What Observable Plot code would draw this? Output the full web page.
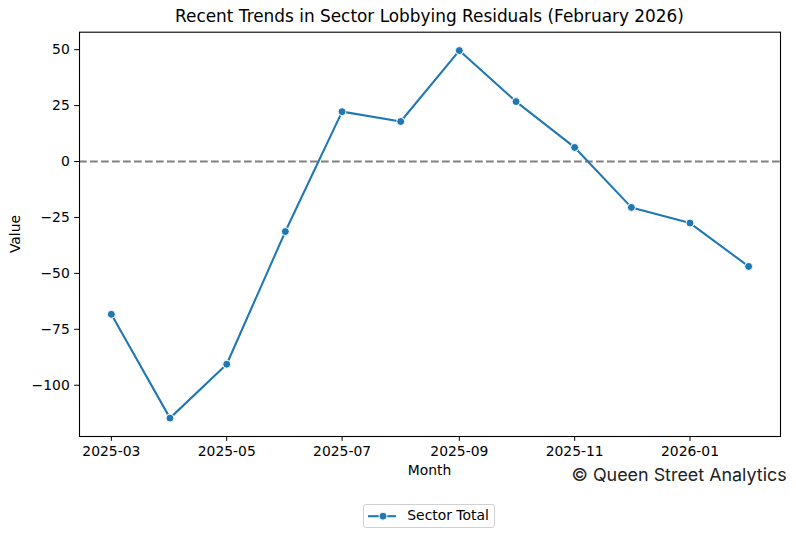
<!DOCTYPE html>
<html>
<head>
<meta charset="utf-8">
<script src="https://cdn.jsdelivr.net/npm/d3@7"></script>
<script src="https://cdn.jsdelivr.net/npm/@observablehq/plot@0.6"></script>
<style>
  html, body { margin: 0; padding: 0; background: #fff; }
  #wrap { position: relative; width: 796px; height: 539px; overflow: hidden; font-family: "DejaVu Sans", sans-serif; color: #000; }
  #wrap svg.plot { position: absolute; left: 0; top: 0; }
  .abs { position: absolute; line-height: 1; white-space: nowrap; }
</style>
</head>
<body>
<div id="wrap">
  <div class="abs" id="title" style="left:0; width:859px; text-align:center; top:8.2px; font-size:16.9px;">Recent Trends in Sector Lobbying Residuals (February 2026)</div>
  <div class="abs" id="xlabel" style="left:0; width:859px; text-align:center; top:464.2px; font-size:13.9px;">Month</div>
  <div class="abs" id="ylabel" style="left:16px; top:234px; font-size:13.9px; transform: translate(-50%,-50%) rotate(-90deg);">Value</div>
  <div class="abs" id="caption" style="right:9.3px; top:465.6px; font-size:17.9px; font-family: Inter, sans-serif; color:#222;">© Queen Street Analytics</div>
  <div class="abs" id="legend" style="left:362.7px; top:504.3px; width:132.6px; height:23.7px; border:1px solid #d0d0d0; border-radius:3px; box-sizing:border-box; background:rgba(255,255,255,0.8);">
    <svg width="40" height="22" style="position:absolute; left:3px; top:0;">
      <line x1="1" x2="29" y1="11.2" y2="11.2" stroke="#1f77b4" stroke-width="2.08"/>
      <circle cx="16" cy="11.2" r="4" fill="#1f77b4" stroke="#fff" stroke-width="1"/>
    </svg>
    <span id="legtext" style="position:absolute; left:43.6px; top:4.2px; font-size:13.9px;"></span>
  </div>
</div>
<script>
const months = ["2025-03","2025-04","2025-05","2025-06","2025-07","2025-08","2025-09","2025-10","2025-11","2025-12","2026-01","2026-02"];
const values = [-68.3, -114.7, -90.6, -31.3, 22.3, 17.9, 49.6, 26.8, 6.3, -20.5, -27.5, -46.9];
const xTickLabels = ["2025-03","2025-05","2025-07","2025-09","2025-11","2026-01"];
const yTicks = [-100, -75, -50, -25, 0, 25, 50];
const seriesName = "Sector Total";

document.getElementById("legtext").textContent = seriesName;

const parse = d3.utcParse("%Y-%m");
const data = months.map((m, i) => ({date: parse(m), value: values[i]}));

const t0 = data[0].date, t1 = data[data.length - 1].date;
const span = t1 - t0;
const xDomain = [new Date(+t0 - 0.05 * span), new Date(+t1 + 0.05 * span)];
const vmin = d3.min(values), vmax = d3.max(values);
const vr = vmax - vmin;
const yDomain = [vmin - 0.05 * vr, vmax + 0.05 * vr];

const chart = Plot.plot({
  width: 796,
  height: 480,
  marginLeft: 79,
  marginRight: 16,
  marginTop: 31.7,
  marginBottom: 44,
  style: {fontFamily: "DejaVu Sans, sans-serif", fontSize: "13.9px", color: "#000", background: "transparent"},
  x: {type: "utc", domain: xDomain, label: null},
  y: {domain: yDomain, label: null},
  marks: [
    Plot.ruleY([0], {stroke: "#808080", strokeWidth: 2.08, strokeDasharray: "7.7,3.3"}),
    Plot.line(data, {x: "date", y: "value", stroke: "#1f77b4", strokeWidth: 2.08}),
    Plot.dot(data, {x: "date", y: "value", r: 4, fill: "#1f77b4", stroke: "#fff", strokeWidth: 1}),
    Plot.axisX(xTickLabels.map(parse), {tickFormat: d3.utcFormat("%Y-%m"), tickSize: 4.86, tickPadding: 4.5, stroke: "#000", fill: "#000", label: null}),
    Plot.axisY(yTicks, {tickFormat: d3.format(""), tickSize: 4.86, tickPadding: 4.86, stroke: "#000", fill: "#000", label: null}),
    Plot.frame({stroke: "#000", strokeWidth: 1.1})
  ]
});
chart.classList.add("plot");
document.getElementById("wrap").appendChild(chart);
</script>
</body>
</html>
